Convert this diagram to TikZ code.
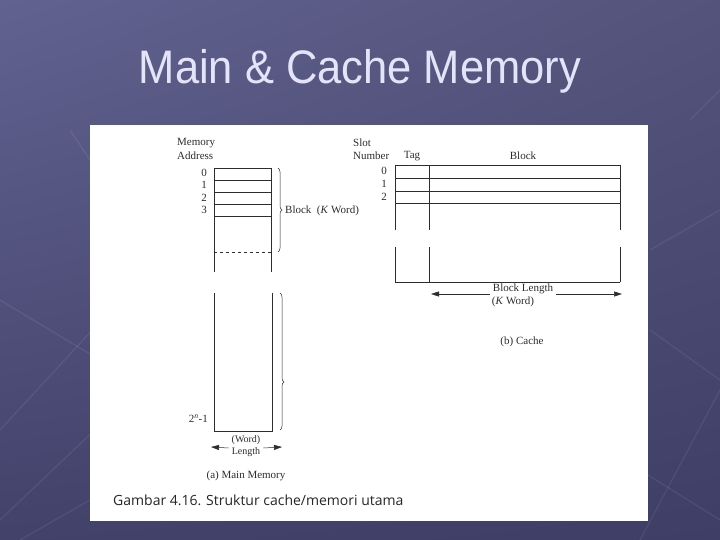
\documentclass[tikz,border=0pt]{standalone}
\usepackage{fontspec}
\setmainfont{Liberation Serif}
\newfontfamily\titlefont{Liberation Sans}
\newfontfamily\capfont{Open Sans}
\usetikzlibrary{positioning,arrows.meta,decorations.pathreplacing,shadings}
\definecolor{slidetop}{RGB}{98,98,145}
\definecolor{slidebot}{RGB}{62,62,102}
\definecolor{titlecol}{RGB}{228,228,248}
\definecolor{ink}{RGB}{45,45,45}

\begin{document}
\begin{tikzpicture}[x=1pt,y=-1pt,
  every node/.style={inner sep=0pt,text=ink,font=\fontsize{11}{12}\selectfont},
  memline/.style={draw=ink,line width=0.6pt},
  bracemark/.style={draw=ink,line width=0.5pt,decorate,decoration={brace,amplitude=4pt}},
  lenarrow/.style={draw=ink,line width=0.5pt,-{Triangle[length=8pt,width=5pt]}},
  deco/.style={draw=white,opacity=0.08,line width=1.2pt}]
\useasboundingbox (0,0) rectangle (720,540);
% slide background
\shade[upper left=slidetop,upper right=slidetop!85!black,lower left=slidebot!90!slidetop,lower right=slidebot] (0,0) rectangle (720,540);
\draw[deco] (0,520) -- (200,330); \draw[deco] (0,430) -- (120,300);
\draw[deco] (0,300) -- (200,420); \draw[deco] (20,540) -- (160,460);
\draw[deco] (640,540) -- (720,390); \draw[deco] (650,250) -- (720,210);
\draw[deco] (650,330) -- (720,380); \draw[deco] (640,470) -- (720,520);
\draw[deco] (70,130) -- (90,160); \draw[deco] (690,120) -- (720,90);
% title
\node[anchor=base,text=titlecol,xscale=0.925,font=\titlefont\fontsize{47}{50}\selectfont] (title) at (360,84) {Main \& Cache Memory};
% white panel
\fill[white] (90,125) rectangle (648,521);

% (a) main memory
\node[anchor=west] (memlbl) at (177,143) {Memory};
\node[anchor=west] (addrlbl) at (177,156) {Address};
\foreach \y in {168,180,192,204,216} \draw[memline] (214,\y) -- (271,\y);
\draw[memline,dashed] (214,252) -- (271,252);
\draw[memline] (214,168) -- (214,272); \draw[memline] (271,168) -- (271,272);
\draw[memline] (214,293) -- (214,431) -- (272,431) -- (272,293);
\foreach \n/\y in {0/173,1/185,2/198,3/210} \node[anchor=east] (a\n) at (207,\y) {\n};
\node[anchor=east] (alast) at (208,419) {2\textsuperscript{\textit{n}}-1};
\coordinate (b1t) at (278,168); \coordinate (b1b) at (278,252);
\draw[bracemark] (b1t) -- (b1b);
\node[anchor=west] (blk) at (285,211) {Block\ \ (\textit{K} Word)};
\coordinate (b2t) at (280,293); \coordinate (b2b) at (280,430);
\draw[bracemark,decoration={aspect=0.65}] (b2t) -- (b2b);
\node (word) at (246,440) {\fontsize{10}{11}\selectfont(Word)};
\node (wlen) at (246,452) {\fontsize{10}{11}\selectfont Length};
\coordinate (wl) at (211,447); \coordinate (wr) at (282,447);
\draw[lenarrow] (wlen.west) ++(-3,-4) coordinate (wla) -- (wl);
\draw[lenarrow] (wlen.east) ++(3,-4) coordinate (wra) -- (wr);
\node (capa) at (246,476) {(a) Main Memory};

% (b) cache
\node[anchor=west] (slotlbl) at (353,143) {Slot};
\node[anchor=west] (numlbl) at (353,156) {Number};
\node (taglbl) at (412,156) {Tag};
\node (blklbl) at (523,156) {Block};
\foreach \y in {165,178,191,203} \draw[memline] (395,\y) -- (620,\y);
\foreach \x in {395,429,620} {
  \draw[memline] (\x,165) -- (\x,230);
  \draw[memline] (\x,247) -- (\x,282);
}
\draw[memline] (395,282) -- (620,282);
\foreach \n/\y in {0/171,1/184,2/197} \node[anchor=east] (s\n) at (387,\y) {\n};
\node (blen) at (523,289) {Block Length};
\node (bkw) at (513,302) {(\textit{K} Word)};
\coordinate (bl) at (431,294); \coordinate (br) at (622,294);
\draw[lenarrow] (blen.west |- bl) ++(-3,0) coordinate (bla) -- (bl);
\draw[lenarrow] (blen.east |- br) ++(3,0) coordinate (bra) -- (br);
\node (capb) at (522,342) {(b) Cache};

% caption
\node[anchor=base west,text=black!85,font=\capfont\fontsize{14}{15}\selectfont] (caption) at (113,505) {Gambar 4.16. Struktur cache/memori utama};
\end{tikzpicture}
\end{document}
